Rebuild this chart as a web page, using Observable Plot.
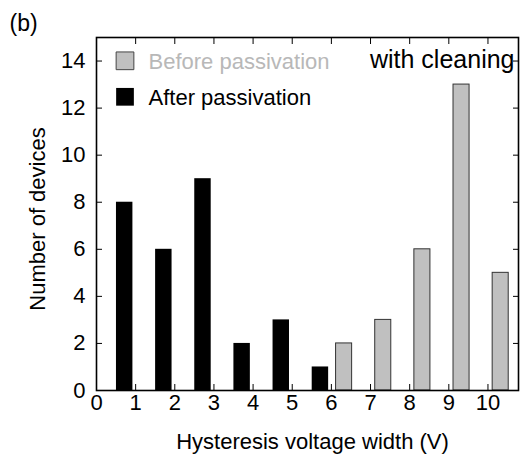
<!DOCTYPE html>
<html><head><meta charset="utf-8">
<script src="https://cdn.jsdelivr.net/npm/d3@7"></script>
<script src="https://cdn.jsdelivr.net/npm/@observablehq/plot@0.6"></script>
<style>
body{margin:0;background:#fff}
#chart svg{font-family:"Liberation Sans", Arial, sans-serif; overflow:visible}
</style>
</head><body><div id="chart"></div>
<script>
const afterV = [1, 2, 3, 4, 5, 6];
const afterCount = [8, 6, 9, 2, 3, 1];
const beforeV = [6, 7, 8, 9, 10];
const beforeCount = [2, 3, 6, 13, 5];
const xTicks = [0, 1, 2, 3, 4, 5, 6, 7, 8, 9, 10];
const yTicks = [0, 2, 4, 6, 8, 10, 12, 14];
const legendLabels = ["Before passivation", "After passivation"];
const xTitle = "Hysteresis voltage width (V)";
const yTitle = "Number of devices";
const panelLabel = "(b)";
const annotation = "with cleaning";

const after = afterV.map((v, i) => ({x1: v - 0.49, x2: v - 0.07, n: afterCount[i]}));
const before = beforeV.map((v, i) => ({x1: v + 0.12, x2: v + 0.53, n: beforeCount[i]}));

const chart = Plot.plot({
  width: 529, height: 457,
  marginLeft: 96, marginRight: 11, marginTop: 37, marginBottom: 67,
  x: {domain: [0, 10.78]},
  y: {domain: [0, 15]},
  style: {fontSize: "22px", color: "black", background: "white"},
  marks: [
    Plot.rectY(after, {x1: "x1", x2: "x2", y: "n", fill: "black"}),
    Plot.rectY(before, {x1: "x1", x2: "x2", y: "n", fill: "#c0c0c0", stroke: "#333", strokeWidth: 1}),
    Plot.frame({stroke: "black", strokeWidth: 1.6}),
    Plot.axisX({anchor: "bottom", ticks: xTicks, tickSize: -6, tickFormat: () => "", label: null}),
    Plot.axisX({anchor: "top", ticks: xTicks, tickSize: -6, tickFormat: () => "", label: null}),
    Plot.axisX({anchor: "bottom", ticks: xTicks, tickSize: 0, tickPadding: 4, label: null, fontSize: 22}),
    Plot.axisY({anchor: "left", ticks: yTicks, tickSize: -6, tickFormat: () => "", label: null}),
    Plot.axisY({anchor: "right", ticks: yTicks, tickSize: -6, tickFormat: () => "", label: null}),
    Plot.axisY({anchor: "left", ticks: yTicks, tickSize: 0, tickPadding: 11, label: null, fontSize: 22}),
    Plot.text([xTitle], {frameAnchor: "bottom", dx: 5, dy: 51, textAnchor: "middle", lineAnchor: "middle", fontSize: 22, text: d => d}),
    Plot.text([yTitle], {frameAnchor: "left", dx: -59, dy: 5, rotate: -90, textAnchor: "middle", lineAnchor: "middle", fontSize: 22, text: d => d}),
    Plot.text([panelLabel], {frameAnchor: "top-left", dx: -87, dy: -14, textAnchor: "start", lineAnchor: "middle", fontSize: 23, text: d => d}),
    Plot.text([annotation], {frameAnchor: "top-right", dx: -4, dy: 22, textAnchor: "end", lineAnchor: "middle", fontSize: 25, text: d => d}),
    Plot.dot([0], {frameAnchor: "top-left", dx: 28.5, dy: 23.3, symbol: "square", r: 10, fill: "#c0c0c0", stroke: "#444", strokeWidth: 1}),
    Plot.dot([0], {frameAnchor: "top-left", dx: 28.5, dy: 59.3, symbol: "square", r: 10, fill: "black"}),
    Plot.text([legendLabels[0]], {frameAnchor: "top-left", dx: 52, dy: 24, textAnchor: "start", lineAnchor: "middle", fontSize: 22, fill: "#b8b8b8", text: d => d}),
    Plot.text([legendLabels[1]], {frameAnchor: "top-left", dx: 52, dy: 60, textAnchor: "start", lineAnchor: "middle", fontSize: 22, fill: "black", text: d => d})
  ]
});
document.getElementById("chart").append(chart);
</script>
</body></html>
